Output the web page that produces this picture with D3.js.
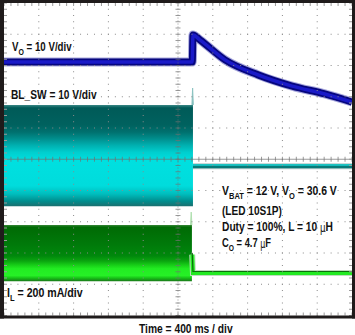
<!DOCTYPE html>
<html><head><meta charset="utf-8">
<script src="https://cdn.jsdelivr.net/npm/d3@7/dist/d3.min.js"></script>
<style>body{margin:0;background:#fff}svg{display:block}</style>
</head><body>
<svg id="c" width="355" height="335"></svg>
<script>
// ---- data (screen divisions: time 0..10 div, amplitude 0..10 div) ----
const timeDomain = [0, 10];
const ampDomain = [0, 10];
const gridDivs = [0,1,2,3,4,5,6,7,8,9,10];
// V_O trace
const voTime = [0, 5.41, 5.43, 5.63, 6.35, 7.30, 8.28, 9.22, 10];
const voDiv  = [8.11, 8.11, 8.98, 8.82, 8.18, 7.70, 7.34, 7.09, 6.83];
// BL_SW switching envelope, then DC level
const swTime = [0, 5.43];
const swHigh = [6.74, 6.74];
const swLow  = [3.50, 3.50];
const swSpikeTime = [5.40, 5.42, 5.44];
const swSpike = [6.74, 7.28, 6.74];
const swAfterTime = [5.43, 10];
const swAfter = [4.78, 4.78];
// I_L ripple envelope, then DC level
const ilTime = [0, 5.40];
const ilHigh = [2.90, 2.90];
const ilLow  = [1.10, 1.10];
const ilSpikeTime = [5.36, 5.38, 5.40];
const ilSpike = [2.90, 3.31, 2.90];
const ilAfterTime = [5.41, 5.43, 10];
const ilAfter = [1.95, 1.36, 1.36];
// labels
const labels = [
  {parts:[["V"],["O",1],[" = 10 V/div"]], x:12, y:51, w:60, size:13.5},
  {parts:[["BL_SW = 10 V/div"]], x:11, y:99, w:86, size:13.5},
  {parts:[["V"],["BAT",1],[" = 12 V, V"],["O",1],[" = 30.6 V"]], x:222, y:195, w:115, size:13.5},
  {parts:[["(LED 10S1P)"]], x:222, y:215, w:60, size:13.5},
  {parts:[["Duty = 100%, L = 10 "],["\u03BC",2],["H"]], x:222, y:231, w:111, size:13.5},
  {parts:[["C"],["O",1],[" = 4.7 "],["\u03BC",2],["F"]], x:222, y:247, w:49, size:13.5},
  {parts:[["I"],["L",1],[" = 200 mA/div"]], x:7, y:297, w:76, size:13.5},
  {parts:[["Time = 400 ms / div"]], x:139, y:333, w:94, size:12}
];

// ---- drawing ----
const svg = d3.select("#c");
const X0 = 4, X1 = 352, Y0 = 3, Y1 = 315.5;
const x = d3.scaleLinear().domain(timeDomain).range([X0, X1]);
const y = d3.scaleLinear().domain(ampDomain).range([Y1, Y0]);
const zip = (a, b) => a.map((t, i) => [t, b[i]]);
const zip3 = (a, b, c) => a.map((t, i) => [t, b[i], c[i]]);

const defs = svg.append("defs");
function grad(id, stops, lo, hi) {
  const g = defs.append("linearGradient").attr("id", id)
    .attr("gradientUnits", "userSpaceOnUse")
    .attr("x1", 0).attr("x2", 0).attr("y1", y(hi)).attr("y2", y(lo));
  stops.forEach(s => g.append("stop").attr("offset", s[0]).attr("stop-color", s[1]));
}
grad("gsw", [[0,"#3c8a88"],[0.03,"#005a58"],[0.2,"#00625f"],[0.27,"#00716f"],[0.33,"#008c8b"],
  [0.4,"#00b0b0"],[0.47,"#00cfcf"],[0.55,"#00e0e0"],[0.8,"#00dcdc"],[0.88,"#00bdbd"],
  [0.95,"#008e8e"],[1,"#1a7070"]], swLow[0], swHigh[0]);
grad("gil", [[0,"#3d8a3d"],[0.04,"#006a04"],[0.35,"#007a0a"],[0.55,"#00880c"],[0.64,"#0aa40f"],
  [0.72,"#18d018"],[0.78,"#22ec22"],[0.9,"#26f026"],[0.95,"#16bc16"],[1,"#1a7a1a"]], ilLow[0], ilHigh[0]);

const area = d3.area().x(d => x(d[0])).y0(d => y(d[2])).y1(d => y(d[1]));
const line = d3.line().x(d => x(d[0])).y(d => y(d[1]));
const smooth = d3.line().x(d => x(d[0])).y(d => y(d[1])).curve(d3.curveMonotoneX);

const tr = svg.append("g");
// BL_SW
tr.append("path").attr("d", area(zip3(swTime, swHigh, swLow))).attr("fill", "url(#gsw)");
tr.append("path").attr("d", line(zip(swSpikeTime, swSpike))).attr("fill", "#7ab8b6").attr("stroke", "#8cc4c2").attr("stroke-width", 1);
tr.append("path").attr("d", line(zip(swAfterTime, swAfter))).attr("fill", "none").attr("stroke", "#b8cccc").attr("stroke-width", 6);
tr.append("path").attr("d", line(zip(swAfterTime, swAfter))).attr("fill", "none").attr("stroke", "#087a78").attr("stroke-width", 4);
tr.append("path").attr("d", line(zip(swAfterTime, swAfter))).attr("transform", "translate(0,-1.2)").attr("fill", "none").attr("stroke", "#19d2d2").attr("stroke-width", 1.4);
// I_L
tr.append("path").attr("d", area(zip3(ilTime, ilHigh, ilLow))).attr("fill", "url(#gil)");
tr.append("path").attr("d", line(zip(ilSpikeTime, ilSpike))).attr("fill", "#a8dca8").attr("stroke", "#b0e0b0").attr("stroke-width", 1);
tr.append("path").attr("d", line(zip(ilAfterTime, ilAfter))).attr("fill", "none").attr("stroke", "#c0dcc0").attr("stroke-width", 6);
tr.append("path").attr("d", line(zip(ilAfterTime, ilAfter))).attr("fill", "none").attr("stroke", "#22ea22").attr("stroke-width", 4);
tr.append("path").attr("d", line(zip(ilAfterTime, ilAfter))).attr("transform", "translate(0,-1.5)").attr("fill", "none").attr("stroke", "#0a6e0a").attr("stroke-width", 1.2);
// V_O
const voPts = zip(voTime, voDiv);
tr.append("path").attr("d", smooth(voPts)).attr("fill", "none").attr("stroke", "#a8a8dc").attr("stroke-width", 9);
tr.append("path").attr("d", smooth(voPts)).attr("fill", "none").attr("stroke", "#06067e").attr("stroke-width", 7);
tr.append("path").attr("d", smooth(voPts)).attr("fill", "none").attr("stroke", "#1a1ac8").attr("stroke-width", 3.5);

// ---- graticule (drawn over traces) ----
const gr = svg.append("g");
const minor = d3.range(0, 50.01, 1).map(k => k / 5);
gridDivs.slice(1, -1).forEach(d => {
  if (d === 5) return;
  gr.selectAll(null).data(minor).enter().append("rect")
    .attr("x", x(d) - 0.5).attr("y", m => y(m) - 0.5).attr("width", 1).attr("height", 1).attr("fill", "#8a8a8a");
  gr.selectAll(null).data(minor).enter().append("rect")
    .attr("x", m => x(m) - 0.5).attr("y", y(d) - 0.5).attr("width", 1).attr("height", 1).attr("fill", "#8a8a8a");
});
// centre lines with minor ticks
gr.append("line").attr("x1", x(0)).attr("x2", x(10)).attr("y1", y(5)).attr("y2", y(5)).attr("stroke", "#707070").attr("stroke-opacity", 0.7).attr("stroke-width", 1);
gr.append("line").attr("y1", y(0)).attr("y2", y(10)).attr("x1", x(5)).attr("x2", x(5)).attr("stroke", "#707070").attr("stroke-opacity", 0.7).attr("stroke-width", 1).attr("stroke-dasharray", "1,2");
gr.selectAll(null).data(minor).enter().append("line")
  .attr("x1", m => x(m)).attr("x2", m => x(m)).attr("y1", y(5) - 2.5).attr("y2", y(5) + 2.5).attr("stroke", "#707070").attr("stroke-opacity", 0.7);
gr.selectAll(null).data(minor).enter().append("line")
  .attr("y1", m => y(m)).attr("y2", m => y(m)).attr("x1", x(5) - 2.5).attr("x2", x(5) + 2.5).attr("stroke", "#707070").attr("stroke-opacity", 0.7);
// edge ticks
[[x(0), 1], [x(10), -1]].forEach(([px, s]) =>
  gr.selectAll(null).data(minor).enter().append("line")
    .attr("x1", px).attr("x2", px + s * 3).attr("y1", m => y(m)).attr("y2", m => y(m)).attr("stroke", "#9a9a9a"));
[[y(10), 1], [y(0), -1]].forEach(([py, s]) =>
  gr.selectAll(null).data(minor).enter().append("line")
    .attr("y1", py).attr("y2", py + s * 3).attr("x1", m => x(m)).attr("x2", m => x(m)).attr("stroke", "#9a9a9a"));

// ---- frame ----
const fc = "#1f1b1b";
svg.append("rect").attr("x", 0).attr("y", 0).attr("width", X0).attr("height", Y1 + 3).attr("fill", fc);
svg.append("rect").attr("x", 0).attr("y", 0).attr("width", 355).attr("height", Y0).attr("fill", fc);
svg.append("rect").attr("x", X1).attr("y", 0).attr("width", 355 - X1).attr("height", Y1 + 3).attr("fill", fc);
svg.append("rect").attr("x", 0).attr("y", Y1).attr("width", 355).attr("height", 3).attr("fill", fc);

// ---- labels ----
labels.forEach(L => {
  const t = svg.append("text").attr("font-family", "'Liberation Sans', Arial, sans-serif")
    .attr("font-weight", "bold").attr("font-size", L.size).attr("fill", "#111");
  let shift = 0;
  L.parts.forEach(p => {
    const ts = t.append("tspan").text(p[0]);
    let want = 0;
    if (p[1] === 1) { ts.attr("font-size", L.size * 0.72); want = 3.5; }
    if (p[1] === 2) { ts.attr("font-weight", "normal").attr("font-family", "'DejaVu Sans', sans-serif").attr("font-size", L.size * 0.85); want = 1; }
    if (want !== shift) { ts.attr("dy", want - shift); shift = want; }
  });
  const w = t.node().getBBox().width;
  t.attr("transform", `translate(${L.x},${L.y}) scale(${L.w / w},1)`);
});
</script>
</body></html>
